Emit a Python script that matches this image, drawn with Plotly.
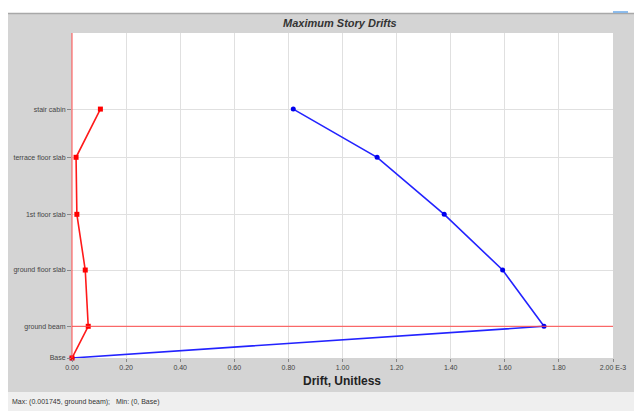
import plotly.graph_objects as go

# ---- data ----
stories = ["Base", "ground beam", "ground floor slab", "1st floor slab", "terrace floor slab", "stair cabin"]
story_elev = [0.0, 1.69, 4.69, 7.66, 10.70, 13.27]          # storey elevation (m)
drift_x = [0.0, 0.060, 0.049, 0.018, 0.015, 0.105]           # drift, E-3 (red)
drift_y = [0.0, 1.745, 1.592, 1.376, 1.128, 0.818]           # drift, E-3 (blue)
x_ticks = [0.0, 0.2, 0.4, 0.6, 0.8, 1.0, 1.2, 1.4, 1.6, 1.8, 2.0]
x_ticktext = ["0.00", "0.20", "0.40", "0.60", "0.80", "1.00", "1.20", "1.40", "1.60", "1.80", "2.00 E-3"]

W, H = 634, 411
L, R, T, B = 72, 613, 33, 358
pw, ph = R - L, B - T


def px(x):
    return (x - L) / pw


def py(y):
    return (B - y) / ph


fig = go.Figure()
fig.add_trace(go.Scatter(
    x=drift_y, y=story_elev, mode="lines+markers",
    line=dict(color="#2323ff", width=1.6),
    marker=dict(color="#0000ee", size=5, symbol="circle"),
    cliponaxis=False, showlegend=False))
fig.add_trace(go.Scatter(
    x=drift_x, y=story_elev, mode="lines+markers",
    line=dict(color="#ff1a1a", width=1.6),
    marker=dict(color="#ff0000", size=5, symbol="square"),
    cliponaxis=False, showlegend=False))

imax = max(range(len(drift_y)), key=lambda i: drift_y[i])
shapes = [
    # white page strips
    dict(type="rect", xref="paper", yref="paper", x0=px(0), x1=px(W), y0=py(13), y1=py(-5),
         fillcolor="white", line_width=0, layer="above"),
    dict(type="rect", xref="paper", yref="paper", x0=px(-5), x1=px(8), y0=py(H + 5), y1=py(-5),
         fillcolor="white", line_width=0, layer="above"),
    # top border line
    dict(type="line", xref="paper", yref="paper", x0=px(8), x1=px(W), y0=py(13.5), y1=py(13.5),
         line=dict(color="#a8a8a8", width=1.5), layer="above"),
    # small blue mark top right
    dict(type="line", xref="paper", yref="paper", x0=px(613), x1=px(628), y0=py(12), y1=py(12),
         line=dict(color="#6aa8e8", width=1.5), layer="above"),
    # status bar
    dict(type="rect", xref="paper", yref="paper", x0=px(8), x1=px(W + 5), y0=py(H + 5), y1=py(392),
         fillcolor="#efefef", line_width=0, layer="above"),
    # vertical red line along the y axis
    dict(type="line", xref="paper", yref="paper", x0=0, x1=0, y0=0, y1=1,
         line=dict(color="#ff4a4a", width=1), layer="above"),
    # horizontal red line at max story
    dict(type="line", xref="paper", yref="y", x0=0, x1=1, y0=story_elev[imax], y1=story_elev[imax],
         line=dict(color="#ff4a4a", width=1), layer="above"),
]

annotations = [
    dict(text="<b><i>Maximum Story Drifts</i></b>", xref="paper", yref="paper",
         x=px(340), y=py(23), xanchor="center", yanchor="middle", showarrow=False,
         font=dict(size=11, color="#333333", family="Liberation Sans, Arial")),
    dict(text="<b>Drift, Unitless</b>", xref="paper", yref="paper",
         x=px(342), y=py(381), xanchor="center", yanchor="middle", showarrow=False,
         font=dict(size=12, color="#222222", family="Liberation Sans, Arial")),
    dict(text="Max: (0.001745, ground beam);   Min: (0, Base)", xref="paper", yref="paper",
         x=px(10), y=py(402), xanchor="left", yanchor="middle", showarrow=False,
         font=dict(size=7, color="#333333", family="Liberation Sans, Arial")),
]

fig.update_layout(
    template="none",
    width=W, height=H,
    margin=dict(l=L, r=W - R, t=T, b=H - B, pad=0, autoexpand=False),
    paper_bgcolor="#d4d4d4", plot_bgcolor="white",
    font=dict(family="Liberation Sans, Arial", size=7, color="#444444"),
    shapes=shapes, annotations=annotations,
    xaxis=dict(range=[0, 2.0], tickvals=x_ticks, ticktext=x_ticktext,
               showgrid=True, gridcolor="#e0e0e0", gridwidth=1, zeroline=False,
               showline=False, ticks="outside", ticklen=3, tickcolor="#888888",
               tickfont=dict(size=7, color="#444444"), automargin=False),
    yaxis=dict(range=[0, (B - T) / ((B - 326.3) / story_elev[1])], tickvals=story_elev, ticktext=stories,
               showgrid=True, gridcolor="#e0e0e0", gridwidth=1, zeroline=False,
               showline=False,
               ticks="outside", ticklen=4, tickcolor="#888888",
               tickfont=dict(size=7, color="#444444"), automargin=False),
)

fig.write_html("out.html", post_script="document.body.style.margin='0';",
               config={"displayModeBar": False})
